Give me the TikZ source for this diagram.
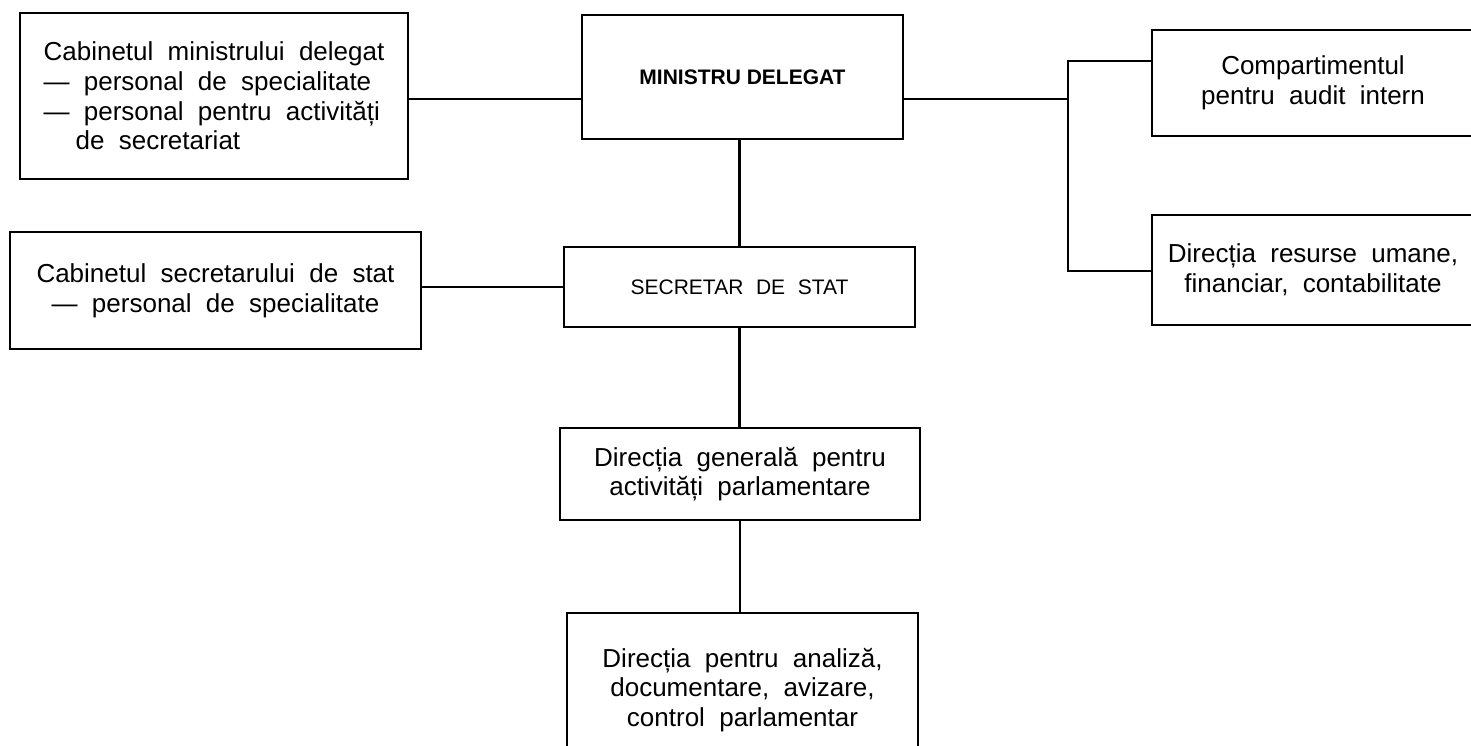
\documentclass[tikz,border=0pt]{standalone}
\usepackage{fontspec}
\setmainfont{Liberation Sans}
\newcommand\bodyfnt{\fontsize{13pt}{14.8pt}\selectfont\spaceskip=0.55em plus 0.1em\relax}
\newcommand\headfnt{\fontsize{10.5pt}{12pt}\selectfont\spaceskip=0.6em\relax}
\newcommand\boldfnt{\fontsize{10.5pt}{12pt}\selectfont\bfseries}
\begin{document}
\begin{tikzpicture}[x=0.5pt,y=-0.5pt,
  box/.style={draw, line width=1.2pt, rectangle, inner sep=0pt, align=center, font=\bodyfnt},
  conn/.style={line width=1.2pt}]
\useasboundingbox (0,0) rectangle (1471,745);
\clip (0,0) rectangle (1471,745);

\node[box, minimum width=194pt, minimum height=83pt, align=left] (cabmin) at (214,96)
  {Cabinetul ministrului delegat\\— personal de specialitate\\— personal pentru activități\\\hbox to 16pt{}de secretariat};
\node[box, minimum width=160.5pt, minimum height=62pt, font=\boldfnt] (ministru) at (742.5,77)
  {MINISTRU DELEGAT};
\node[box, minimum width=161pt, minimum height=53pt] (comp) at (1313,83)
  {Compartimentul\\pentru audit intern};
\node[box, minimum width=161pt, minimum height=55pt] (dru) at (1313,270)
  {Direcția resurse umane,\\financiar, contabilitate};
\node[box, minimum width=205.5pt, minimum height=58.5pt] (cabsec) at (215.5,290.5)
  {Cabinetul secretarului de stat\\— personal de specialitate};
\node[box, minimum width=175.5pt, minimum height=40pt, font=\headfnt] (secretar) at (739.5,287)
  {SECRETAR DE STAT};
\node[box, minimum width=180pt, minimum height=46pt] (dgen) at (740,474)
  {Direcția generală pentru\\activități parlamentare};
\node[box, minimum width=175.5pt, minimum height=77pt] (dan) at (742.5,690)
  {Direcția pentru analiză,\\documentare, avizare,\\control parlamentar};

\coordinate (lj) at (500,99);
\coordinate (rj) at (1068,99);
\coordinate (rt) at (1068,61);
\coordinate (rb) at (1068,271);

\draw[conn] (cabmin.east |- lj) -- (ministru.west |- lj);
\draw[conn] (ministru.east |- rj) -- (rj);
\draw[conn] (rt -| comp.west) -- (rt) -- (rb) -- (rb -| dru.west);
\draw[conn] (secretar.north) -- (secretar.north |- ministru.south);
\draw[conn] (cabsec.east |- secretar.west) -- (secretar.west);
\draw[conn] (secretar.south) -- (secretar.south |- dgen.north);
\draw[conn] (dgen.south) -- (dgen.south |- dan.north);
\end{tikzpicture}
\end{document}
